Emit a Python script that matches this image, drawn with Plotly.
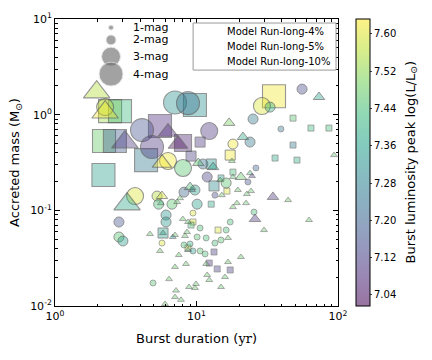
import plotly.graph_objects as go

# ---------------- data ----------------
# Model Run-long-4% (circles)
c_dur = [2.26, 4.12, 4.85, 6.29, 8.03, 7.05, 8.71, 12.3, 18.1, 23.9, 29.0, 33.1, 55.7, 25.1, 39.5,
         11.1, 26.3, 23.1, 11.9, 16.2, 13.5, 3.68, 5.26, 5.40, 6.71, 8.16, 9.75, 6.09, 6.09, 10.1,
         9.44, 2.83, 2.83, 3.02, 5.70, 10.1, 10.6, 11.7, 13.5, 14.9, 16.2, 8.16, 9.00, 9.44, 10.6,
         11.5, 4.93, 25.5, 17.3]
c_mass = [1.20, 0.690, 0.459, 0.328, 0.277, 1.34, 1.32, 0.674, 0.493, 0.517, 1.23, 1.20, 1.85, 0.90, 0.708,
          0.305, 0.277, 0.198, 0.223, 0.193, 0.144, 0.141, 0.141, 0.116, 0.116, 0.155, 0.163, 0.0893, 0.0755, 0.116,
          0.0937, 0.0755, 0.0526, 0.0478, 0.0455, 0.0526, 0.0653, 0.0514, 0.0455, 0.0489, 0.0622, 0.0434, 0.0445, 0.0376, 0.0376,
          0.035, 0.0174, 0.0959, 0.0755]
c_mag = [3, 4, 4, 3, 3, 4, 4, 3, 2, 2, 3, 2, 2, 2, 1,
         2, 1, 1, 2, 2, 1, 3, 2, 2, 2, 2, 2, 2, 2, 2,
         1, 2, 2, 2, 1, 1, 1, 1, 1, 1, 1, 1, 1, 1, 1,
         1, 1, 1, 1]
c_lum = [7.58, 7.16, 7.10, 7.62, 7.46, 7.32, 7.24, 7.10, 7.62, 7.26, 7.60, 7.40, 7.14, 7.26, 7.24,
         7.24, 7.20, 7.16, 7.12, 7.46, 7.14, 7.60, 7.56, 7.44, 7.46, 7.20, 7.36, 7.34, 7.34, 7.36,
         7.60, 7.16, 7.46, 7.36, 7.60, 7.46, 7.44, 7.44, 7.44, 7.46, 7.44, 7.44, 7.40, 7.36, 7.46,
         7.44, 7.46, 7.44, 7.44]

# Model Run-long-5% (squares)
s_dur = [2.45, 2.88, 2.22, 2.65, 2.20, 5.52, 4.40, 8.03, 10.6, 9.15, 9.75, 35.3, 17.3, 12.7, 48.1,
         64.4, 86.3, 48.1, 35.9, 51.3, 18.1, 13.3, 14.9, 16.4, 12.7, 9.44, 9.15, 14.2, 5.80, 13.3,
         12.3, 14.0, 17.3, 8.71]
s_mass = [1.09, 1.09, 0.530, 0.530, 0.234, 0.76, 0.335, 0.505, 0.517, 0.369, 1.26, 1.56, 0.378, 0.305, 0.92,
          0.724, 0.724, 0.481, 0.352, 0.335, 0.251, 0.180, 0.218, 0.159, 0.116, 0.0755, 0.0702, 0.0622, 0.0579, 0.0367,
          0.0281, 0.0244, 0.0238, 0.0404]
s_mag = [4, 4, 4, 4, 4, 4, 4, 3, 2, 2, 4, 4, 2, 2, 1,
         1, 1, 1, 1, 1, 1, 2, 1, 1, 1, 1, 1, 1, 2, 1,
         1, 1, 1, 1]
s_lum = [7.54, 7.42, 7.48, 7.18, 7.36, 7.08, 7.26, 7.06, 7.10, 7.12, 7.32, 7.62, 7.62, 7.34, 7.46,
         7.42, 7.44, 7.26, 7.38, 7.40, 7.44, 7.30, 7.36, 7.60, 7.38, 7.60, 7.44, 7.60, 7.36, 7.12,
         7.10, 7.12, 7.12, 7.60]

# Model Run-long-10% (triangles)
t_dur = [1.97, 2.26, 3.12, 6.29, 7.40, 5.70, 3.23, 17.0, 21.3, 73.4, 10.3, 13.1, 17.8, 18.1, 20.6,
         23.9, 24.7, 14.7, 15.1, 22.7, 19.6, 24.3, 34.7, 44.4, 22.4, 19.3, 18.1, 25.9, 62.4, 30.0,
         93.7, 5.70, 5.60, 7.65, 7.30, 9.00, 4.69, 5.80, 5.52, 7.05, 6.80, 8.30, 8.57, 8.00, 8.71,
         16.7, 8.71, 7.50, 8.43, 7.05, 11.7, 16.7, 20.6, 15.9, 11.9, 12.3, 6.40, 7.17, 7.05, 7.77,
         5.99, 8.85, 9.92, 9.75, 14.9, 9.30]
t_mass = [1.72, 1.06, 0.517, 0.658, 0.493, 0.312, 0.116, 0.82, 0.584, 1.53, 0.312, 0.283, 0.328, 0.223, 0.223,
          0.245, 0.228, 0.207, 0.144, 0.148, 0.163, 0.159, 0.138, 0.128, 0.119, 0.119, 0.108, 0.0811, 0.0792, 0.0622,
          0.378, 0.141, 0.119, 0.134, 0.122, 0.175, 0.0565, 0.0579, 0.0376, 0.0552, 0.0526, 0.0539, 0.0593, 0.0811, 0.0755,
          0.0514, 0.0385, 0.0341, 0.0275, 0.0256, 0.0275, 0.0288, 0.0325, 0.0201, 0.0211, 0.0187, 0.0191, 0.0145, 0.0124, 0.0116,
          0.0105, 0.0158, 0.0170, 0.0154, 0.0158, 0.163]
t_mag = [4, 4, 4, 3, 3, 3, 4, 2, 2, 2, 2, 2, 1, 1, 2,
         1, 1, 1, 1, 1, 1, 1, 2, 1, 1, 1, 1, 2, 1, 1,
         1, 2, 1, 1, 1, 2, 1, 1, 1, 1, 1, 1, 1, 1, 1,
         1, 1, 1, 1, 1, 1, 1, 1, 1, 1, 1, 1, 1, 1, 1,
         1, 1, 1, 1, 1, 1]
t_lum = [7.56, 7.62, 7.10, 7.08, 7.02, 7.62, 7.38, 7.50, 7.38, 7.36, 7.46, 7.36, 7.48, 7.46, 7.48,
         7.44, 7.12, 7.48, 7.48, 7.48, 7.48, 7.48, 7.10, 7.48, 7.48, 7.48, 7.48, 7.10, 7.48, 7.48,
         7.48, 7.60, 7.44, 7.48, 7.48, 7.44, 7.48, 7.36, 7.48, 7.48, 7.30, 7.48, 7.48, 7.48, 7.48,
         7.48, 7.30, 7.48, 7.48, 7.48, 7.48, 7.48, 7.48, 7.48, 7.48, 7.48, 7.48, 7.48, 7.48, 7.48,
         7.48, 7.48, 7.48, 7.48, 7.48, 7.30]

mag_labels = ["1-mag", "2-mag", "3-mag", "4-mag"]
mag_levels = [1, 2, 3, 4]
model_names = ["Model Run-long-4%", "Model Run-long-5%", "Model Run-long-10%"]
model_symbols = ["circle", "square", "triangle-up"]
cbar_ticks = [7.04, 7.12, 7.20, 7.28, 7.36, 7.44, 7.52, 7.60]
cbar_title = "Burst luminosity peak log(L/L<sub>⊙</sub>)"
x_ticks = [1, 10, 100]
x_ticktext = ["10<sup>0</sup>", "10<sup>1</sup>", "10<sup>2</sup>"]
y_ticks = [0.01, 0.1, 1, 10]
y_ticktext = ["10<sup>-2</sup>", "10<sup>-1</sup>", "10<sup>0</sup>", "10<sup>1</sup>"]

# ---------------- styling ----------------
SIZE = {1: 6, 2: 10, 3: 17, 4: 23}
LINEW = {1: 0.8, 2: 1, 3: 1.1, 4: 1.1}
viridis = ["#440154", "#482878", "#3e4989", "#31688e", "#26828e",
           "#1f9e89", "#35b779", "#6ece58", "#b5de2b", "#fde725"]


def rgba(h, a):
    h = h.lstrip("#")
    return "rgba(%d,%d,%d,%s)" % (int(h[0:2], 16), int(h[2:4], 16), int(h[4:6], 16), a)


cscale = [[i / (len(viridis) - 1), rgba(c, 0.55)] for i, c in enumerate(viridis)]

fig = go.Figure()


def add_series(dur, mass, mag, lum, symbol):
    # draw large markers first so small ones stay visible
    order = sorted(range(len(dur)), key=lambda i: -mag[i])
    fig.add_trace(go.Scatter(
        x=[dur[i] for i in order], y=[mass[i] for i in order], mode="markers",
        showlegend=False, hoverinfo="skip",
        marker=dict(symbol=symbol, size=[SIZE[mag[i]] for i in order],
                    color=[lum[i] for i in order], coloraxis="coloraxis",
                    line=dict(color="rgba(90,90,90,0.9)", width=[LINEW[mag[i]] for i in order]))))


add_series(s_dur, s_mass, s_mag, s_lum, "square")
add_series(c_dur, c_mass, c_mag, c_lum, "circle")
add_series(t_dur, t_mass, t_mag, t_lum, "triangle-up")

# ---- legends drawn on an overlay axis spanning [0,1] ----
# model legend box
fig.add_shape(type="rect", xref="x2", yref="y2", x0=0.488, x1=0.993, y0=0.822, y1=0.986,
              line=dict(color="#999", width=1), fillcolor="white", layer="above")
mod_y = [0.955, 0.903, 0.851]
for sym, yy, name in zip(model_symbols, mod_y, model_names):
    fig.add_trace(go.Scatter(
        x=[0.541], y=[yy], xaxis="x2", yaxis="y2", mode="markers", showlegend=False, hoverinfo="skip",
        marker=dict(symbol=sym, size=6, color="rgba(40,40,230,0.9)", line=dict(color="#333", width=1.2))))
    fig.add_annotation(x=0.600, y=yy, xref="x2", yref="y2", text=name, showarrow=False,
                       xanchor="left", yanchor="middle", font=dict(size=10, color="black"))

# size legend
leg_y = [0.970, 0.927, 0.869, 0.808]
fig.add_trace(go.Scatter(
    x=[0.198] * 4, y=leg_y, xaxis="x2", yaxis="y2", mode="markers", showlegend=False, hoverinfo="skip",
    marker=dict(symbol="circle", size=[5, 10, 19, 24], color="rgba(110,110,110,0.9)",
                line=dict(color="rgba(225,225,225,1)", width=1))))
for lab, yy in zip(mag_labels, leg_y):
    fig.add_annotation(x=0.27, y=yy, xref="x2", yref="y2", text=lab, showarrow=False,
                       xanchor="left", yanchor="middle", font=dict(size=11, color="black"))

# colour bar title (rotated, placed like the reference)
fig.add_annotation(x=1.258, y=0.5, xref="paper", yref="paper", text=cbar_title, showarrow=False,
                   textangle=-90, xanchor="center", yanchor="middle", font=dict(size=13, color="black"))

minor_x = [m * d for d in [1, 10] for m in range(2, 10)]
minor_y = [m * d for d in [0.01, 0.1, 1] for m in range(2, 10)]

axis_common = dict(type="log", showgrid=False, zeroline=False, showline=True, linecolor="black",
                   linewidth=1, mirror="ticks", ticks="inside", ticklen=5, tickcolor="black",
                   tickfont=dict(size=11, color="black"), automargin=False)

fig.update_layout(
    width=432, height=360,
    margin=dict(l=55, r=94, t=19, b=54, autoexpand=False),
    paper_bgcolor="white", plot_bgcolor="white",
    showlegend=False,
    font=dict(family="DejaVu Sans", color="black"),
    xaxis=dict(axis_common, range=[0, 2], tickmode="array", tickvals=x_ticks, ticktext=x_ticktext,
               minor=dict(tickvals=minor_x, ticks="inside", ticklen=2.5, tickcolor="black"),
               title=dict(text="Burst duration (<span style='font-family:DejaVu Serif'>yr</span>)",
                          font=dict(size=13), standoff=11)),
    yaxis=dict(axis_common, range=[-2, 1], tickmode="array", tickvals=y_ticks, ticktext=y_ticktext,
               minor=dict(tickvals=minor_y, ticks="inside", ticklen=2.5, tickcolor="black"),
               title=dict(text="Accreted mass (M<sub>⊙</sub>)", font=dict(size=13), standoff=7)),
    xaxis2=dict(overlaying="x", range=[0, 1], visible=False),
    yaxis2=dict(overlaying="y", range=[0, 1], visible=False),
    coloraxis=dict(colorscale=cscale, cmin=7.016, cmax=7.632,
                   colorbar=dict(x=1.064, xanchor="left", xpad=0, y=0.5, yanchor="middle", ypad=0,
                                 len=1, lenmode="fraction",
                                 thickness=14, outlinecolor="black", outlinewidth=1,
                                 tickvals=cbar_ticks, ticktext=["%.2f" % v for v in cbar_ticks],
                                 ticks="outside", ticklen=2, tickfont=dict(size=10))),
)

fig.write_html("out.html", config={"displayModeBar": False},
               post_script="document.body.style.margin='0';document.body.style.overflow='hidden';")
